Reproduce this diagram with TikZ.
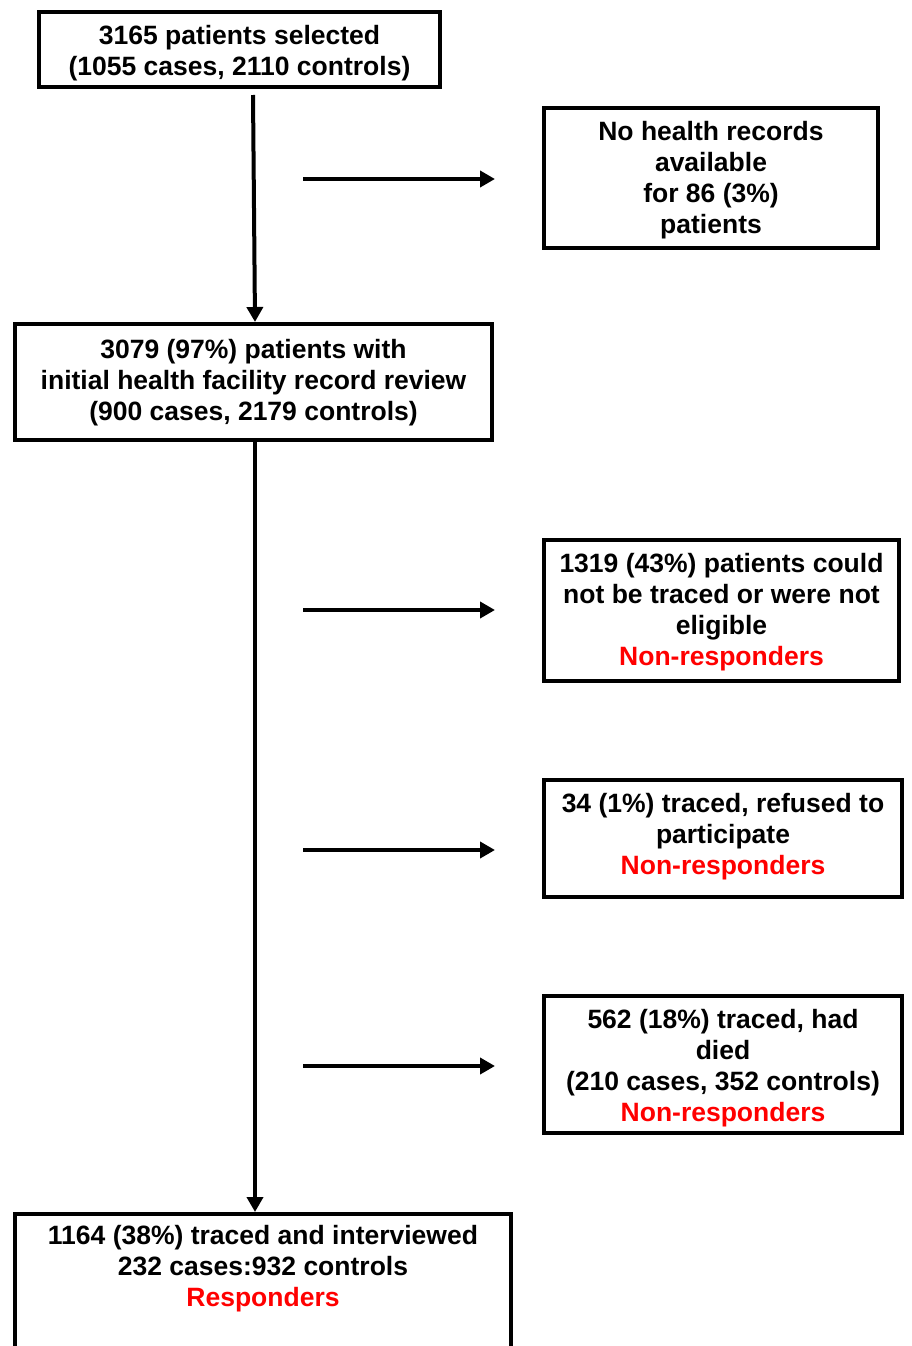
\documentclass[tikz,border=0pt]{standalone}
\usepackage{fontspec}
\setmainfont{Liberation Sans}
\usetikzlibrary{arrows.meta}
\begin{document}
\begin{tikzpicture}[x=1pt,y=-1pt,
  box/.style={draw, line width=4pt, inner sep=0pt},
  txt/.style={align=center, inner sep=0pt,
    font=\fontsize{26.5}{31}\selectfont\bfseries},
  arr/.style={line width=4pt, -{Triangle[length=15pt,width=16pt]}}]
\useasboundingbox (0,0) rectangle (911,1346);
\clip (0,0) rectangle (911,1346);
\fill[white] (0,0) rectangle (911,1346);
% boxes
\node[box, minimum width=401pt, minimum height=75pt] (sel) at (239.5,49.5) {};
\node[txt] (selt) at (239.5,53.5)
  {3165 patients selected\\(1055 cases, 2110 controls)};
\node[box, minimum width=334pt, minimum height=140pt] (norec) at (711,178) {};
\node[txt] (norect) at (711,180)
  {No health records\\available\\for 86 (3\%)\\patients};
\node[box, minimum width=477pt, minimum height=116pt] (rev) at (253.5,382) {};
\node[txt] (revt) at (253.5,382.5)
  {3079 (97\%) patients with\\initial health facility record review\\(900 cases, 2179 controls)};
\node[box, minimum width=355pt, minimum height=141pt] (nt) at (721.5,610.5) {};
\node[txt] (ntt) at (721.5,612.5)
  {1319 (43\%) patients could\\not be traced or were not\\eligible\\\textcolor{red}{Non-responders}};
\node[box, minimum width=358pt, minimum height=117pt] (ref) at (723,838.5) {};
\node[txt] (reft) at (723,836.5)
  {34 (1\%) traced, refused to\\participate\\\textcolor{red}{Non-responders}};
\node[box, minimum width=358pt, minimum height=137pt] (died) at (723,1064.5) {};
\node[txt] (diedt) at (723,1068)
  {562 (18\%) traced, had\\died\\(210 cases, 352 controls)\\\textcolor{red}{Non-responders}};
\node[box, anchor=north, minimum width=496pt, minimum height=220pt] (resp) at (263,1212) {};
\node[txt] (respt) at (263,1269)
  {1164 (38\%) traced and interviewed\\232 cases:932 controls\\\textcolor{red}{Responders}};
% connectors
\coordinate (v0) at (253,95);
\coordinate (v1) at (255,0);
\draw[arr] (v0) -- (rev.north -| v1);
\draw[arr] (rev.south -| v1) -- (resp.north -| v1);
\coordinate (h1s) at (303,179); \coordinate (h1e) at (495,179);
\coordinate (h2s) at (303,610); \coordinate (h2e) at (495,610);
\coordinate (h3s) at (303,850); \coordinate (h3e) at (495,850);
\coordinate (h4s) at (303,1066); \coordinate (h4e) at (495,1066);
\draw[arr] (h1s) -- (h1e);
\draw[arr] (h2s) -- (h2e);
\draw[arr] (h3s) -- (h3e);
\draw[arr] (h4s) -- (h4e);
\end{tikzpicture}
\end{document}
